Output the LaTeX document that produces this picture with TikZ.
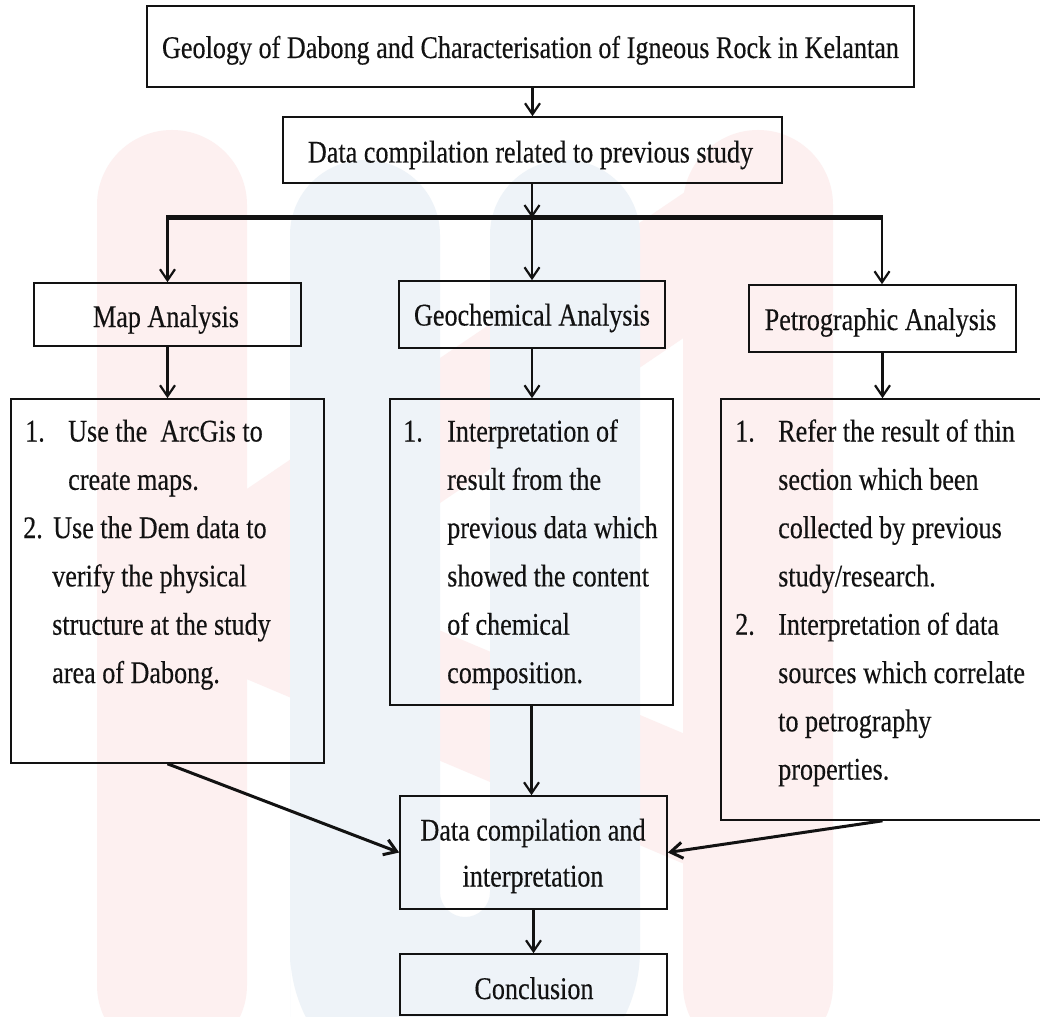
\documentclass[tikz,border=0pt]{standalone}
\usepackage{fontspec}
\setmainfont{Liberation Serif}[FakeStretch=0.83,FakeBold=0.3]
\usetikzlibrary{arrows.meta}
\definecolor{wmred}{RGB}{253,240,240}
\definecolor{wmblue}{RGB}{238,243,248}
\definecolor{ink}{RGB}{18,18,18}
\begin{document}
\begin{tikzpicture}[x=1pt,y=-1pt,
  box/.style={draw=ink, line width=1.6pt, inner sep=0pt},
  lbl/.style={font=\fontsize{31.5}{36}\selectfont, inner sep=0pt, anchor=base, text=ink},
  ln/.style={font=\fontsize{31.5}{36}\selectfont, inner sep=0pt, anchor=base west, text=ink},
  arr/.style={draw=ink, line width=2.2pt, -{Straight Barb[length=11pt,width=15pt]}},
  diag/.style={draw=ink, line width=3pt, -{Straight Barb[length=12pt,width=16pt]}},
  bar/.style={draw=ink, line width=5pt},
]
\useasboundingbox (0,0) rectangle (1040,1016);
\fill[white] (0,0) rectangle (1040,1016);
\begin{scope}
\clip (0,0) rectangle (1040,1016);
% watermark
\fill[wmred, rounded corners=75pt] (97,130) rectangle (247,1060);
\fill[wmred, rounded corners=75pt] (683,130) rectangle (833,1060);
\draw[wmred, line width=120pt, line cap=round] (190,600) -- (758,215);
\draw[wmred, line width=120pt, line cap=round] (190,590) -- (758,830);
\fill[wmblue] (290,1100) [rounded corners=75pt] -- (290,160) -- (440,160)
  [rounded corners=25pt] -- (440,917) -- (490,917)
  [rounded corners=75pt] -- (490,160) -- (640,160)
  [rounded corners=150pt] -- (640,1100) -- (290,1100) [sharp corners] -- cycle;

% boxes
\node[box, minimum width=767pt, minimum height=81pt] (top) at (530.5,46.5) {};
\node[box, minimum width=499pt, minimum height=66pt] (sub) at (532.5,150) {};
\node[box, minimum width=267pt, minimum height=63pt] (map) at (167.5,314.5) {};
\node[box, minimum width=266pt, minimum height=67pt] (geo) at (532,314.5) {};
\node[box, minimum width=267pt, minimum height=67pt] (pet) at (882.5,318.5) {};
\node[box, minimum width=313pt, minimum height=364pt] (mlist) at (167.5,581) {};
\node[box, minimum width=283pt, minimum height=306pt] (glist) at (531.5,552) {};
\node[box, minimum width=329pt, minimum height=421pt] (plist) at (885.5,609.5) {};
\node[box, minimum width=267pt, minimum height=113pt] (dc) at (533.5,852.5) {};
\node[box, minimum width=267pt, minimum height=61pt] (conc) at (533.5,984.5) {};

% box labels
\node[lbl] (ttop) at (530.5,58) {Geology of Dabong and Characterisation of Igneous Rock in Kelantan};
\node[lbl] (tsub) at (530.5,162.5) {Data compilation related to previous study};
\node[lbl] (tmap) at (166,327) {Map Analysis};
\node[lbl] (tgeo) at (532,325.5) {Geochemical Analysis};
\node[lbl] (tpet) at (880.5,330) {Petrographic Analysis};
\node[lbl] (tdc1) at (533,840.5) {Data compilation and};
\node[lbl] (tdc2) at (533,886.5) {interpretation};
\node[lbl] (tconc) at (534,999) {Conclusion};

% map list
\node[ln] (m1n) at (25,441.5) {1.};
\node[ln] (m1a) at (68,441.5) {Use the\ \ ArcGis to};
\node[ln] (m1b) at (68,489.8) {create maps.};
\node[ln] (m2n) at (23,538.1) {2.};
\node[ln] (m2a) at (53,538.1) {Use the Dem data\ to};
\node[ln] (m2b) at (52,586.4) {verify the physical};
\node[ln] (m2c) at (52,634.7) {structure at the study};
\node[ln] (m2d) at (52,683) {area of Dabong.};

% geochemical list
\node[ln] (g1n) at (403,441.5) {1.};
\node[ln] (g1a) at (447,441.5) {Interpretation of};
\node[ln] (g1b) at (447,489.8) {result from the};
\node[ln] (g1c) at (447,538.1) {previous data\ which};
\node[ln] (g1d) at (447,586.4) {showed the content};
\node[ln] (g1e) at (447,634.7) {of chemical};
\node[ln] (g1f) at (447,683) {composition.};

% petrographic list
\node[ln] (p1n) at (735,441.5) {1.};
\node[ln] (p1a) at (778,441.5) {Refer the result of thin};
\node[ln] (p1b) at (778,489.8) {section which\ been};
\node[ln] (p1c) at (778,538.1) {collected by previous};
\node[ln] (p1d) at (778,586.4) {study/research.};
\node[ln] (p2n) at (735,634.7) {2.};
\node[ln] (p2a) at (778,634.7) {Interpretation of data};
\node[ln] (p2b) at (778,683) {sources which\ correlate};
\node[ln] (p2c) at (778,731.3) {to petrography};
\node[ln] (p2d) at (778,779.6) {properties.};

% connectors
\coordinate (bl) at (167.5,218);
\coordinate (bm) at (532,218);
\coordinate (br) at (882,218);
\draw[arr] (sub.north |- top.south) -- (sub.north);
\draw[arr] (bm |- sub.south) -- (bm);
\draw[bar] ([xshift=-1.2pt]bl) -- ([xshift=1.2pt]br);
\draw[arr] (bl) -- (map.north);
\draw[arr] (bm) -- (geo.north);
\draw[arr] (br) -- (br |- pet.north);
\draw[arr] (map.south) -- (map.south |- mlist.north);
\draw[arr] (geo.south) -- (geo.south |- glist.north);
\draw[arr] (pet.south) -- (pet.south |- plist.north);
\draw[arr] (glist.south) -- (glist.south |- dc.north);
\draw[diag] (mlist.south) -- (dc.west);
\draw[diag] (pet.south |- plist.south) -- (dc.east);
\draw[arr] (dc.south) -- (conc.north);
\end{scope}
\end{tikzpicture}
\end{document}
